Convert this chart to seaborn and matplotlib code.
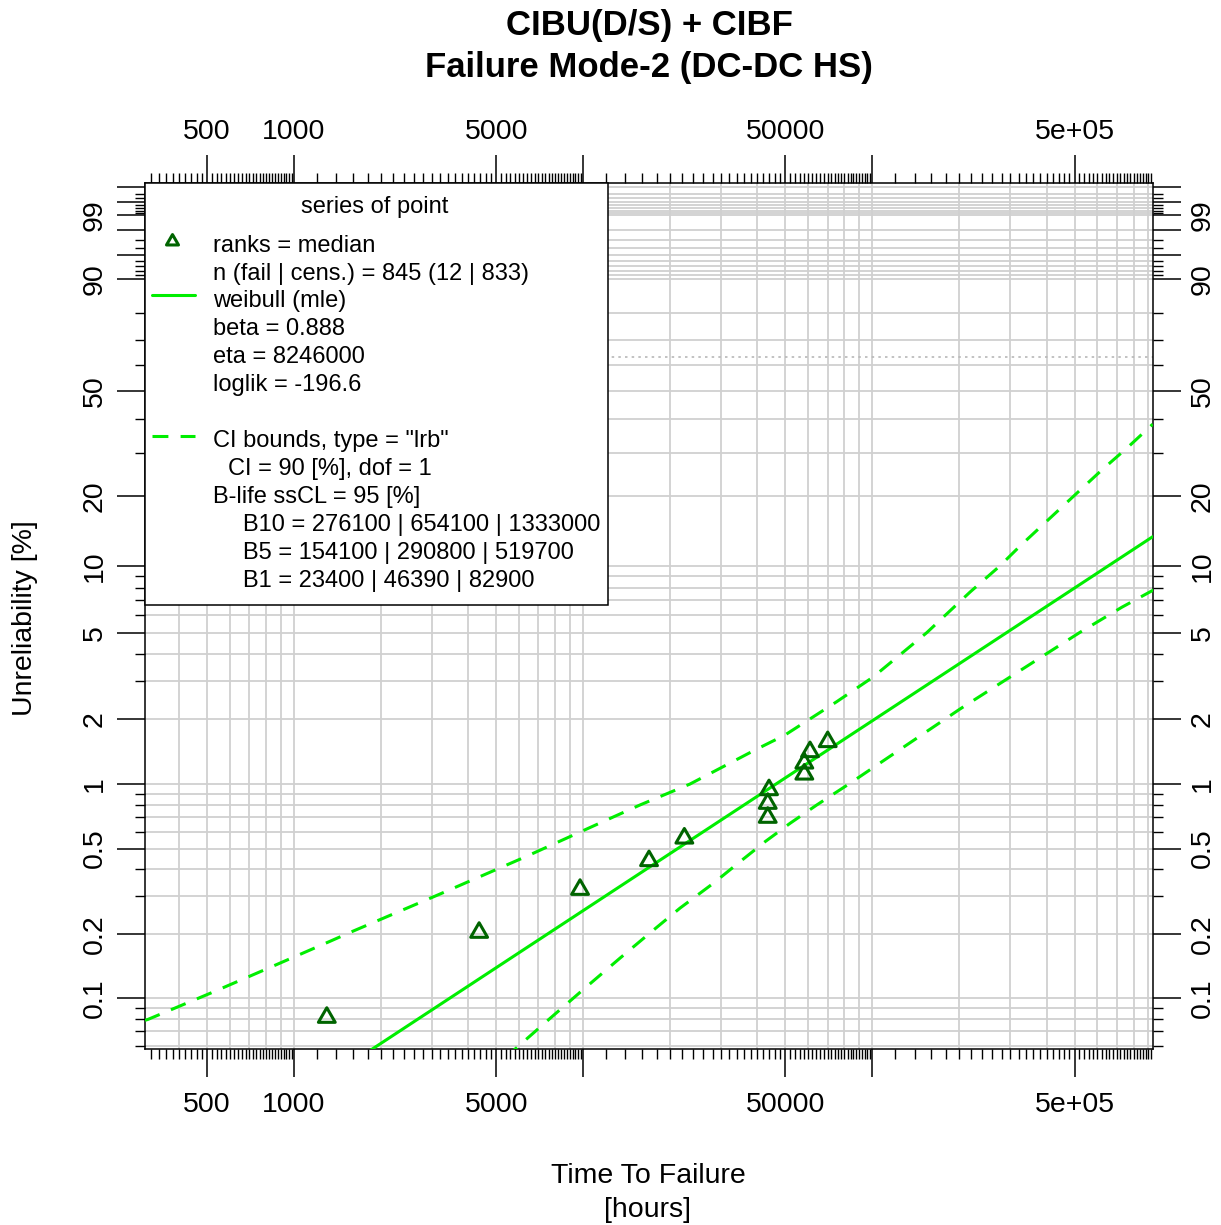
import numpy as np
import matplotlib
matplotlib.use("Agg")
import matplotlib.pyplot as plt
from matplotlib.ticker import FixedLocator, FixedFormatter, NullFormatter
from matplotlib.patches import Rectangle
from matplotlib.path import Path
from matplotlib.transforms import ScaledTranslation
import seaborn as sns

# ---- data -----------------------------------------------------------------
# failures: time to failure [hours] and median-rank unreliability [%]
fail_hours = [1298, 4365, 9750, 16885, 22370, 43450, 43450, 43900,
              58150, 58150, 60840, 70040]
fail_unrel = [0.0813, 0.2030, 0.3222, 0.4387, 0.5592, 0.6988, 0.8118,
              0.9396, 1.111, 1.250, 1.412, 1.572]

# Weibull maximum-likelihood fit
beta = 0.888
eta = 8246000

# 90 % likelihood-ratio confidence bounds
ci_upper_hours = [305, 313, 519, 837, 1298, 1604, 3198, 6292, 12544, 15720,
                  23400, 39270, 49870, 75260, 100500, 154100, 217600,
                  276100, 323900, 530700, 620900, 767300, 911900, 931500]
ci_upper_unrel = [0.0788, 0.0797, 0.1062, 0.1404, 0.1818, 0.2062, 0.307,
                  0.457, 0.697, 0.799, 1.0, 1.44, 1.69, 2.41, 3.13, 5.0,
                  7.64, 10.0, 12.23, 21.56, 25.6, 31.6, 37.6, 38.4]
ci_lower_hours = [5366, 7677, 9984, 13408, 17020, 21610, 28180, 34850,
                  42530, 51900, 64170, 82900, 200900, 519700, 727800, 1333000]
ci_lower_unrel = [0.0526, 0.0805, 0.1096, 0.1541, 0.202, 0.2638, 0.3445,
                  0.4346, 0.5386, 0.6562, 0.7986, 1.0, 2.23, 5.0, 6.52, 10.0]

# characteristic-life reference level [%]
eta_level = 63.2

# axis ticks
x_major = [500, 1000, 5000, 10000, 50000, 100000, 500000]
x_major_labels = ["500", "1000", "5000", "", "50000", "", "5e+05"]
y_major = [0.1, 0.2, 0.5, 1, 2, 5, 10, 20, 50, 90, 95, 98, 99, 99.5, 99.8]
y_major_labels = ["0.1", "0.2", "0.5", "1", "2", "5", "10", "20", "50",
                  "90", "", "", "99", "", ""]
y_minor = [0.06, 0.07, 0.08, 0.09, 0.3, 0.4, 0.6, 0.7, 0.8, 0.9,
           3, 4, 6, 7, 8, 9, 30, 40, 60, 70, 80,
           91, 92, 93, 94, 96, 97, 99.1, 99.2, 99.3, 99.4, 99.6, 99.7]

legend_rows = [
    ("ranks = median", 0),
    ("n (fail | cens.) = 845 (12 | 833)", 0),
    ("weibull (mle)", 0),
    ("beta = 0.888", 0),
    ("eta = 8246000", 0),
    ("loglik = -196.6", 0),
    ("", 0),
    ('CI bounds, type = "lrb"', 0),
    ("CI = 90 [%], dof = 1", 1),
    ("B-life ssCL = 95 [%]", 0),
    ("B10 = 276100 | 654100 | 1333000", 2),
    ("B5 = 154100 | 290800 | 519700", 2),
    ("B1 = 23400 | 46390 | 82900", 2),
]

# ---- style ----------------------------------------------------------------
sns.set_style("white")
plt.rcParams["font.family"] = ["Liberation Sans", "DejaVu Sans"]
plt.rcParams["text.color"] = "black"
plt.rcParams["axes.labelcolor"] = "black"
plt.rcParams["xtick.color"] = "black"
plt.rcParams["ytick.color"] = "black"

LINE_GREEN = "#00ee00"
POINT_GREEN = "#006400"
GRID = "#d0d0d0"
DASH = (0, (5.2, 4.0))

# open triangle, centred on its centroid
tri = Path([(0, 1.0), (0.866, -0.5), (-0.866, -0.5), (0, 1.0)],
           [Path.MOVETO, Path.LINETO, Path.LINETO, Path.CLOSEPOLY])

W, H = 1221, 1225
fig = plt.figure(figsize=(W / 100, H / 100), dpi=100)
AX_L, AX_R, AX_T, AX_B = 145.0, 1152.7, 182.7, 1049.0
ax = fig.add_axes([AX_L / W, 1 - AX_B / H, (AX_R - AX_L) / W, (AX_B - AX_T) / H])


def ax_xy(px, py):
    """figure pixel -> axes fraction"""
    return (px - AX_L) / (AX_R - AX_L), (AX_B - py) / (AX_B - AX_T)


x_lim = (305.2, 931500)
y_lim = (0.0579, 99.854)

# ---- curves ---------------------------------------------------------------
t_fit = np.geomspace(x_lim[0], x_lim[1], 300)
F_fit = 100.0 * (1.0 - np.exp(-(t_fit / eta) ** beta))

sns.lineplot(x=t_fit, y=F_fit, ax=ax, color=LINE_GREEN, linewidth=2.2,
             estimator=None, sort=False, zorder=3)
sns.lineplot(x=ci_upper_hours, y=ci_upper_unrel, ax=ax, color=LINE_GREEN,
             linewidth=2.2, linestyle=DASH, estimator=None, sort=False, zorder=3)
sns.lineplot(x=ci_lower_hours, y=ci_lower_unrel, ax=ax, color=LINE_GREEN,
             linewidth=2.2, linestyle=DASH, estimator=None, sort=False, zorder=3)

sns.scatterplot(x=fail_hours, y=fail_unrel, ax=ax, marker=tri, s=14 ** 2,
                color=POINT_GREEN, facecolor="none", edgecolor=POINT_GREEN,
                linewidth=2.2, zorder=4)

# ---- scales ---------------------------------------------------------------
def _fwd(p):
    p = np.clip(np.asarray(p, dtype=float), 1e-9, 100 - 1e-9)
    return np.log10(-np.log1p(-p / 100.0))


def _inv(y):
    return -100.0 * np.expm1(-10.0 ** np.asarray(y, dtype=float))


ax.set_xscale("log")
ax.set_yscale("function", functions=(_fwd, _inv))
ax.set_xlim(*x_lim)
ax.set_ylim(*y_lim)

# ---- grid -----------------------------------------------------------------
for n in range(2, 7):
    for k in range(1, 10):
        v = k * 10 ** n
        if x_lim[0] < v < x_lim[1]:
            ax.axvline(v, color=GRID, lw=1.3, zorder=0.5)
for v in y_major + y_minor:
    if y_lim[0] < v < y_lim[1]:
        ax.axhline(v, color=GRID, lw=1.3, zorder=0.5)
ax.axhline(eta_level, color="#b8b8b8", lw=1.2, ls=(0, (1.5, 2.5)), zorder=0.6)

# ---- ticks ----------------------------------------------------------------
x_minor = []
for n in range(2, 6):
    for k in np.arange(1.2, 10.0, 0.2):
        v = round(k, 1) * 10 ** n
        if x_lim[0] < v < x_lim[1] and not any(abs(v - m) < 1e-6 for m in x_major):
            x_minor.append(v)

ax.xaxis.set_major_locator(FixedLocator(x_major))
ax.xaxis.set_major_formatter(FixedFormatter(x_major_labels))
ax.xaxis.set_minor_locator(FixedLocator(x_minor))
ax.xaxis.set_minor_formatter(NullFormatter())
ax.yaxis.set_major_locator(FixedLocator(y_major))
ax.yaxis.set_major_formatter(FixedFormatter(y_major_labels))
ax.yaxis.set_minor_locator(FixedLocator(y_minor))
ax.yaxis.set_minor_formatter(NullFormatter())

ax.tick_params(axis="both", which="major", direction="out", length=20,
               width=1.1, color="black", labelsize=20.5, labelcolor="black",
               top=True, right=True, bottom=True, left=True,
               labeltop=True, labelright=True)
ax.tick_params(axis="both", which="minor", direction="out", length=7,
               width=1.0, color="black", top=True, right=True,
               bottom=True, left=True)
ax.tick_params(axis="x", which="major", pad=7)
ax.tick_params(axis="y", which="major", pad=6.8, labelrotation=90)
for tk in ax.yaxis.get_major_ticks():
    tk.label1.set_va("center")
    tk.label2.set_va("center")
# bottom labels sit a little further from the axis than the top ones
shift_down = ScaledTranslation(0, -6 / 100, fig.dpi_scale_trans)
for tk in ax.xaxis.get_major_ticks():
    tk.label1.set_transform(tk.label1.get_transform() + shift_down)

for sp in ax.spines.values():
    sp.set_visible(True)
    sp.set_color("black")
    sp.set_linewidth(1.1)
ax.set_xlabel("")
ax.set_ylabel("")

# ---- legend box -----------------------------------------------------------
x0, y0 = ax_xy(AX_L, 604.5)
x1, _ = ax_xy(608.0, 0)
ax.add_patch(Rectangle((x0, y0), x1 - x0, 1 - y0, transform=ax.transAxes,
                       facecolor="white", edgecolor="black", lw=1.1,
                       zorder=5, clip_on=False))

tx, ty = ax_xy(375, 213.5)
ax.text(tx, ty, "series of point", transform=ax.transAxes, fontsize=17,
        ha="center", va="baseline", zorder=6)
indent_px = [213, 228, 243]
for i, (txt, ind) in enumerate(legend_rows):
    if not txt:
        continue
    px, py = ax_xy(indent_px[ind], 251.6 + 27.92 * i)
    ax.text(px, py, txt, transform=ax.transAxes, fontsize=17,
            ha="left", va="baseline", zorder=6)

mx, my = ax_xy(172.2, 241)
ax.plot([mx], [my], transform=ax.transAxes, marker=tri, ms=10,
        mfc="none", mec=POINT_GREEN, mew=2.2, ls="none", zorder=6,
        clip_on=False)
lx0, ly = ax_xy(152, 295)
lx1, _ = ax_xy(195, 0)
ax.plot([lx0, lx1], [ly, ly], transform=ax.transAxes, color=LINE_GREEN,
        lw=2.2, zorder=6, clip_on=False)
_, ly = ax_xy(0, 436)
ax.plot([lx0, lx1], [ly, ly], transform=ax.transAxes, color=LINE_GREEN,
        lw=2.2, ls=DASH, zorder=6, clip_on=False)

# ---- titles ---------------------------------------------------------------
fig.text(649 / W, 1 - 46.5 / H, "CIBU(D/S) + CIBF\nFailure Mode-2 (DC-DC HS)",
         ha="center", va="center", fontsize=25, fontweight="bold",
         linespacing=1.36)
fig.text(648 / W, 1 - 1193 / H, "Time To Failure\n[hours]", ha="center",
         va="center", fontsize=20.5, linespacing=1.38)
fig.text(25 / W, 1 - 618 / H, "Unreliability [%]", rotation=90, ha="center",
         va="center", fontsize=20.5)

fig.savefig("out.png", dpi=100, facecolor="white")
